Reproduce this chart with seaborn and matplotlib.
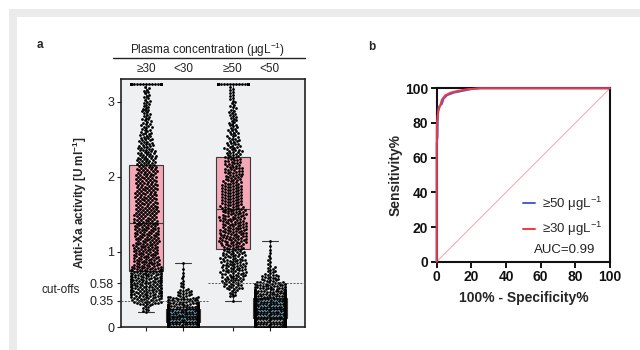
import warnings
warnings.filterwarnings("ignore")
import numpy as np
import pandas as pd
import matplotlib
matplotlib.use("Agg")
import matplotlib.pyplot as plt
from matplotlib.patches import Rectangle
from matplotlib.lines import Line2D
import matplotlib.transforms as mtransforms
import seaborn as sns

# ---------------- data ----------------
groups = ["≥30", "<30", "≥50", "<50"]
kinds = ["high", "low", "high", "low"]
positions = [0, 1, 2.35, 3.35]
bin_width = 0.1
# counts of points per 0.1-wide bin, bins starting at 0.0, 0.1, ... 3.1
ge30_counts = [0, 0, 8, 28, 36, 36, 38, 35, 26, 25, 25, 24, 24, 24, 22, 22,
               21, 21, 21, 20, 20, 19, 19, 17, 14, 12, 10, 9, 8, 8, 6, 6]
lt30_counts = [150, 130, 75, 35, 15, 5, 3, 2, 1]
ge50_counts = [0, 0, 0, 1, 8, 18, 22, 24, 24, 22, 20, 26, 26, 24, 24, 23,
               20, 20, 20, 17, 17, 16, 15, 15, 12, 10, 9, 8, 7, 6, 5, 5]
lt50_counts = [120, 120, 115, 90, 55, 35, 18, 9, 4, 3, 2, 1]
capped_value = 3.24
capped_counts = [45, 0, 45, 0]
cutoff_values = [0.35, 0.58]

ytick_values = [0, 0.35, 0.58, 1, 2, 3]
ytick_labels = ["0", "0.35", "0.58", "1", "2", "3"]

# ROC curves
roc50_x = [0, 0, 0.5, 0.7, 1, 2, 3, 4, 6, 10, 15, 20, 25, 100]
roc50_y = [0, 68, 72, 85, 89, 90, 91, 94, 96, 97.5, 98.5, 99.5, 100, 100]
roc30_x = [0, 0, 0.5, 1, 2, 3, 5, 8, 12, 18, 25, 100]
roc30_y = [0, 78, 84, 87, 90, 93.5, 96, 97.5, 98.5, 99.5, 100, 100]
auc_text = "AUC=0.99"

# ---------------- build long table ----------------
rows = []
all_counts = [ge30_counts, lt30_counts, ge50_counts, lt50_counts]
for g, k, p, counts, cap in zip(groups, kinds, positions, all_counts, capped_counts):
    for i, c in enumerate(counts):
        if c == 0:
            continue
        start = i * bin_width
        vals = start + (np.arange(c) + 0.5) / c * bin_width
        for v in vals:
            rows.append((g, k, p, v))
    for _ in range(cap):
        rows.append((g, k, p, capped_value))
df = pd.DataFrame(rows, columns=["group", "kind", "pos", "value"])

# ---------------- figure ----------------
sns.set_theme(style="white")
plt.rcParams["font.family"] = ["Liberation Sans", "DejaVu Sans"]
plt.rcParams["mathtext.fontset"] = "custom"
plt.rcParams["mathtext.rm"] = "Liberation Sans"
plt.rcParams["mathtext.bf"] = "Liberation Sans:bold"

W, H = 640, 350
fig = plt.figure(figsize=(6.4, 3.5), dpi=100)
fig.patch.set_facecolor("white")
band = "#ebebeb"
fig.add_artist(Rectangle((9 / W, 1 - 17 / H), 631 / W, 8 / H, transform=fig.transFigure,
                         facecolor=band, edgecolor="none", zorder=-5))
fig.add_artist(Rectangle((9 / W, 0), 8 / W, 1 - 9 / H, transform=fig.transFigure,
                         facecolor=band, edgecolor="none", zorder=-5))

def ax_rect(l, t, r, b):
    return [l / W, 1 - b / H, (r - l) / W, (b - t) / H]

# ---------- panel a ----------
axa = fig.add_axes(ax_rect(121, 79, 305, 327))
axa.set_facecolor("#eff0f2")
pal = {"high": "#f4a7b6", "low": "#9fd2ee"}
sns.boxplot(data=df, x="pos", y="value", hue="kind", palette=pal, native_scale=True,
            dodge=False, whis=(0, 100), width=0.9, fliersize=0, linecolor="#3a3a3a",
            linewidth=0.8, saturation=1, legend=False, ax=axa)
sns.swarmplot(data=df, x="pos", y="value", native_scale=True, color="black", size=2.0,
              linewidth=0, warn_thresh=1, ax=axa, zorder=3)
axa.set_xlim(-0.68, 4.30)
axa.set_ylim(0, 3.30)
mid = (positions[1] + positions[2]) / 2
axa.plot([-0.68, mid], [cutoff_values[0]] * 2, ls=(0, (2, 1.5)), color="#555555", lw=0.7, zorder=4)
axa.plot([mid, 4.30], [cutoff_values[1]] * 2, ls=(0, (2, 1.5)), color="#555555", lw=0.7, zorder=4)
axa.set_xticks(positions, labels=[])
axa.set_yticks(ytick_values, labels=ytick_labels)
axa.set_xlabel("")
axa.set_ylabel("Anti-Xa activity [U ml$^{\\mathbf{-1}}$]", fontsize=8.5, fontweight="bold", labelpad=0.5)
axa.tick_params(axis="both", direction="out", length=3, width=0.8, colors="#222222",
                labelsize=9, pad=2, left=True, bottom=True)
for s in axa.spines.values():
    s.set_color("#222222")
    s.set_linewidth(1.2)
trans = mtransforms.blended_transform_factory(axa.transData, axa.transAxes)
for g, p in zip(groups, positions):
    axa.text(p, 1.040, g, transform=trans, ha="center", va="center", fontsize=8.5, color="#222222")
fig.text(208 / W, 1 - 50 / H, "Plasma concentration (μgL$^{-1}$)", ha="center", va="center",
         fontsize=8.5, color="#222222")
fig.add_artist(Line2D([113 / W, 305 / W], [1 - 58 / H] * 2, color="#222222", lw=1.0,
                      transform=fig.transFigure))
fig.text(80 / W, 1 - 290 / H, "cut-offs", ha="right", va="center", fontsize=8.5, color="#222222")
fig.text(40 / W, 1 - 45 / H, "a", ha="center", va="center", fontsize=8.5, fontweight="bold")

# ---------- panel b ----------
axb = fig.add_axes(ax_rect(436.7, 88.3, 610, 261.7))
axb.set_facecolor("white")
axb.plot([0, 100], [0, 100], color="#f4a6ad", lw=0.7, zorder=1)
roc_df = pd.concat([
    pd.DataFrame({"x": roc50_x, "y": roc50_y, "curve": "≥50 μgL$^{-1}$"}),
    pd.DataFrame({"x": roc30_x, "y": roc30_y, "curve": "≥30 μgL$^{-1}$"}),
])
sns.lineplot(data=roc_df, x="x", y="y", hue="curve", sort=False, estimator=None,
             palette=["#4b5bd6", "#f2383f"], lw=1.4, ax=axb, zorder=3, clip_on=False)
axb.set_xlim(0, 100)
axb.set_ylim(0, 100)
axb.set_xticks([0, 20, 40, 60, 80, 100])
axb.set_yticks([0, 20, 40, 60, 80, 100])
axb.tick_params(axis="both", direction="out", length=4, width=1.4, colors="#111111",
                labelsize=10, pad=2, left=True, bottom=True)
for lab in axb.get_xticklabels() + axb.get_yticklabels():
    lab.set_fontweight("bold")
axb.set_xlabel("100% - Specificity%", fontsize=10, fontweight="bold", labelpad=5)
axb.set_ylabel("Sensitivity%", fontsize=10, fontweight="bold", labelpad=1.5)
for s in axb.spines.values():
    s.set_color("#111111")
    s.set_linewidth(1.5)
leg = axb.legend(loc="lower right", bbox_to_anchor=(1.0, 0.09), frameon=False, fontsize=9.5,
                 handlelength=0.9, handletextpad=0.5, labelspacing=0.55, borderaxespad=0.2)
axb.text(74, 6.7, auc_text, ha="center", va="center", fontsize=9.5, color="#222222")
fig.text(372 / W, 1 - 47 / H, "b", ha="center", va="center", fontsize=8.5, fontweight="bold")

fig.savefig("out.png", dpi=100)
